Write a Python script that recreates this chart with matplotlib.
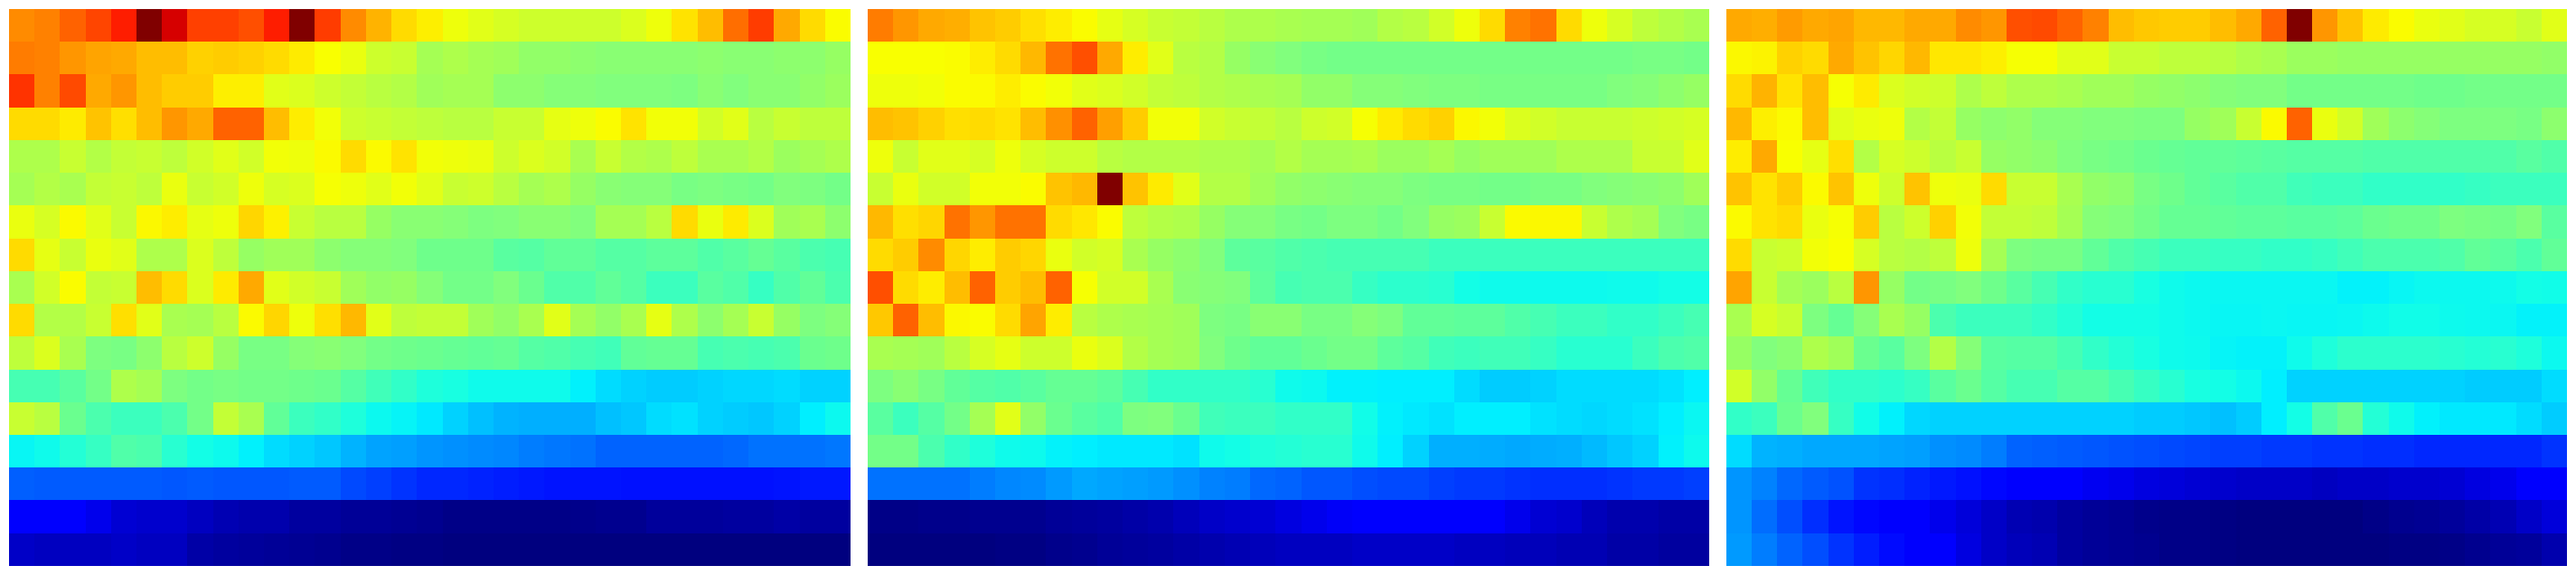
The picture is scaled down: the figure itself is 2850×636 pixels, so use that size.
import matplotlib
matplotlib.use('Agg')
import matplotlib.pyplot as plt
from matplotlib.colors import LinearSegmentedColormap

# Data: one row per line
panel_a = [
    [.80,.81,.84,.86,.89,1.0,.93,.865,.865,.85,.89,1.0,.87,.80,.76,.72,.69,.64,.625,.615,.605,.605,.605,.605,.62,.64,.71,.75,.83,.87,.77,.72,.66],
    [.815,.81,.79,.775,.77,.75,.75,.73,.735,.73,.72,.70,.655,.635,.605,.60,.565,.575,.565,.56,.545,.545,.54,.535,.535,.535,.535,.54,.535,.535,.54,.54,.55],
    [.875,.81,.855,.77,.79,.75,.735,.735,.69,.69,.625,.62,.605,.595,.585,.58,.56,.565,.565,.54,.54,.53,.53,.525,.525,.525,.52,.535,.525,.535,.535,.545,.555],
    [.72,.72,.70,.745,.715,.75,.79,.77,.84,.84,.75,.695,.645,.605,.60,.595,.59,.585,.585,.60,.60,.63,.64,.66,.71,.645,.645,.61,.625,.585,.60,.59,.59],
    [.575,.575,.60,.58,.595,.60,.59,.61,.625,.61,.645,.64,.665,.72,.665,.71,.645,.64,.635,.605,.62,.61,.57,.60,.58,.575,.59,.57,.57,.58,.555,.565,.575],
    [.565,.58,.57,.595,.60,.59,.635,.60,.61,.64,.615,.62,.65,.64,.625,.645,.625,.60,.605,.585,.565,.575,.55,.535,.53,.53,.515,.52,.515,.51,.525,.52,.51],
    [.635,.615,.665,.625,.60,.67,.695,.63,.64,.725,.685,.60,.585,.585,.55,.535,.535,.53,.52,.525,.535,.535,.525,.565,.565,.585,.72,.635,.70,.62,.56,.57,.54],
    [.72,.63,.60,.635,.625,.575,.575,.62,.59,.55,.56,.56,.54,.53,.53,.525,.505,.505,.505,.48,.475,.49,.49,.475,.475,.485,.485,.47,.48,.495,.48,.465,.46],
    [.57,.61,.66,.595,.60,.75,.72,.62,.70,.77,.625,.61,.60,.56,.545,.55,.53,.51,.51,.525,.50,.47,.47,.49,.475,.45,.45,.48,.47,.445,.47,.49,.465],
    [.72,.58,.58,.60,.715,.625,.57,.565,.585,.665,.725,.64,.715,.755,.625,.59,.595,.595,.56,.545,.57,.625,.565,.545,.57,.63,.575,.54,.565,.60,.55,.52,.53],
    [.59,.62,.57,.52,.515,.54,.585,.605,.55,.515,.515,.53,.535,.525,.51,.505,.50,.495,.49,.495,.475,.47,.46,.455,.49,.495,.495,.46,.465,.46,.465,.50,.505],
    [.46,.46,.48,.51,.575,.565,.52,.51,.515,.51,.51,.505,.50,.475,.455,.44,.42,.415,.40,.40,.40,.40,.365,.345,.335,.33,.33,.335,.34,.34,.345,.335,.335],
    [.60,.585,.50,.465,.45,.45,.465,.51,.595,.57,.49,.45,.44,.42,.39,.375,.355,.335,.32,.31,.305,.305,.305,.32,.325,.345,.35,.335,.33,.325,.335,.36,.39],
    [.38,.40,.425,.445,.47,.465,.43,.41,.395,.365,.345,.335,.325,.31,.29,.285,.275,.27,.265,.26,.25,.245,.24,.225,.225,.225,.225,.225,.23,.24,.24,.24,.245],
    [.22,.215,.215,.215,.215,.215,.21,.215,.21,.21,.21,.215,.215,.195,.185,.175,.165,.165,.16,.155,.15,.145,.145,.145,.14,.14,.14,.14,.14,.14,.145,.15,.15],
    [.115,.115,.115,.10,.08,.075,.075,.065,.055,.05,.05,.04,.04,.03,.03,.025,.02,.01,.01,.01,.01,.01,.015,.02,.02,.035,.035,.035,.04,.04,.045,.04,.04],
    [.07,.065,.065,.065,.07,.065,.065,.045,.04,.035,.03,.025,.02,.01,.01,.005,.005,0,0,0,0,0,0,0,0,0,0,0,0,0,0,0,0],
]

panel_b = [
    [.815,.79,.77,.765,.745,.735,.715,.695,.66,.63,.615,.60,.595,.585,.575,.575,.57,.565,.565,.56,.58,.585,.61,.64,.72,.81,.825,.72,.64,.615,.59,.58,.57],
    [.655,.655,.655,.66,.695,.72,.755,.825,.85,.77,.695,.625,.585,.58,.55,.535,.525,.515,.51,.51,.51,.51,.51,.51,.51,.51,.51,.51,.51,.51,.515,.515,.51],
    [.64,.64,.645,.66,.665,.695,.66,.645,.625,.62,.61,.595,.59,.58,.575,.57,.565,.545,.545,.53,.53,.525,.52,.52,.515,.515,.515,.515,.515,.525,.53,.54,.55],
    [.75,.745,.73,.715,.72,.71,.75,.795,.84,.78,.735,.645,.645,.61,.60,.595,.585,.605,.61,.65,.70,.72,.73,.67,.645,.62,.61,.60,.60,.60,.605,.61,.615],
    [.64,.60,.625,.625,.615,.64,.615,.605,.605,.585,.58,.58,.58,.575,.575,.565,.58,.565,.565,.57,.555,.555,.565,.55,.56,.56,.56,.575,.575,.575,.60,.60,.625],
    [.60,.635,.61,.61,.645,.645,.66,.745,.755,1.0,.745,.70,.625,.58,.58,.56,.545,.54,.535,.53,.53,.52,.515,.515,.51,.51,.515,.515,.525,.53,.535,.54,.56],
    [.755,.715,.725,.825,.79,.825,.825,.72,.705,.66,.59,.58,.575,.55,.53,.53,.515,.51,.52,.52,.51,.525,.55,.555,.60,.665,.67,.67,.60,.575,.565,.525,.515],
    [.72,.735,.80,.725,.695,.735,.725,.635,.61,.615,.57,.55,.54,.525,.485,.48,.47,.465,.46,.46,.46,.46,.45,.45,.45,.45,.45,.45,.45,.45,.45,.45,.45],
    [.85,.72,.695,.75,.84,.735,.75,.84,.65,.61,.61,.57,.535,.53,.525,.485,.46,.465,.465,.445,.435,.435,.43,.41,.40,.40,.395,.395,.395,.40,.40,.41,.41],
    [.74,.84,.75,.67,.66,.72,.775,.695,.585,.575,.57,.565,.56,.52,.515,.535,.535,.515,.515,.53,.52,.49,.49,.485,.485,.47,.46,.45,.45,.44,.44,.45,.46],
    [.57,.565,.56,.585,.615,.63,.605,.605,.635,.62,.58,.565,.56,.525,.505,.49,.49,.50,.51,.51,.485,.475,.455,.45,.455,.455,.445,.43,.43,.43,.45,.465,.47],
    [.52,.535,.515,.49,.475,.47,.48,.495,.495,.485,.46,.44,.44,.44,.44,.43,.40,.39,.365,.365,.36,.36,.36,.345,.33,.33,.335,.345,.345,.345,.345,.35,.36],
    [.48,.45,.475,.51,.565,.625,.545,.50,.48,.47,.52,.525,.50,.455,.45,.45,.44,.44,.44,.405,.365,.355,.35,.36,.36,.36,.35,.345,.34,.345,.35,.36,.385],
    [.51,.51,.465,.44,.42,.40,.395,.37,.36,.355,.355,.355,.35,.40,.41,.42,.425,.43,.43,.40,.36,.335,.305,.305,.30,.295,.30,.305,.315,.325,.335,.365,.395],
    [.24,.24,.24,.24,.25,.26,.265,.28,.295,.29,.285,.28,.27,.255,.25,.23,.225,.21,.21,.20,.195,.195,.185,.18,.18,.175,.17,.17,.17,.175,.18,.18,.185],
    [.01,.01,.015,.015,.02,.02,.02,.03,.035,.04,.045,.05,.06,.07,.075,.08,.09,.10,.11,.115,.115,.115,.115,.115,.115,.10,.08,.075,.06,.05,.05,.045,.045],
    [0,0,0,0,0,.005,.005,.015,.02,.03,.035,.04,.045,.05,.055,.06,.065,.065,.065,.07,.07,.07,.07,.065,.065,.06,.06,.055,.055,.045,.045,.04,.04],
]

panel_c = [
    [.77,.765,.785,.77,.775,.755,.755,.77,.77,.80,.79,.85,.855,.84,.81,.75,.74,.735,.735,.75,.77,.84,1.0,.79,.745,.70,.66,.635,.625,.615,.615,.60,.625],
    [.67,.68,.73,.72,.77,.745,.725,.755,.705,.705,.69,.65,.65,.625,.625,.60,.60,.59,.59,.585,.575,.57,.555,.555,.55,.55,.55,.55,.55,.55,.55,.55,.545],
    [.72,.76,.71,.75,.65,.70,.62,.61,.605,.575,.59,.575,.575,.57,.56,.56,.55,.545,.54,.53,.525,.525,.51,.51,.51,.51,.51,.505,.505,.51,.51,.51,.51],
    [.755,.69,.665,.75,.625,.635,.64,.58,.595,.55,.54,.545,.53,.53,.525,.525,.52,.52,.55,.56,.60,.665,.84,.635,.61,.56,.54,.53,.52,.52,.52,.515,.54],
    [.695,.77,.655,.63,.715,.58,.615,.605,.585,.60,.55,.545,.54,.525,.515,.51,.50,.495,.49,.49,.485,.48,.475,.475,.475,.47,.47,.47,.47,.47,.47,.48,.47],
    [.745,.71,.735,.665,.745,.64,.605,.745,.64,.635,.72,.60,.60,.57,.545,.54,.515,.505,.49,.48,.47,.47,.455,.45,.45,.44,.44,.44,.44,.445,.45,.45,.45],
    [.665,.71,.72,.635,.65,.735,.585,.605,.73,.645,.595,.595,.59,.565,.53,.525,.51,.495,.495,.49,.485,.485,.48,.48,.485,.50,.505,.505,.52,.515,.51,.525,.48],
    [.72,.60,.605,.645,.655,.615,.585,.58,.59,.64,.565,.52,.515,.515,.49,.47,.46,.45,.45,.445,.445,.44,.44,.445,.455,.465,.465,.465,.47,.49,.48,.465,.49],
    [.775,.60,.565,.555,.585,.79,.55,.51,.515,.525,.505,.48,.46,.44,.43,.43,.415,.40,.39,.385,.385,.385,.385,.385,.37,.37,.38,.39,.39,.39,.395,.41,.405],
    [.57,.615,.60,.52,.495,.53,.57,.55,.465,.45,.45,.45,.44,.425,.41,.41,.41,.40,.39,.38,.38,.385,.38,.38,.385,.395,.405,.405,.395,.39,.385,.37,.37],
    [.55,.525,.535,.575,.56,.50,.48,.52,.58,.53,.48,.475,.475,.46,.44,.425,.415,.40,.395,.375,.37,.37,.40,.42,.435,.435,.435,.435,.43,.425,.43,.42,.39],
    [.61,.545,.495,.455,.44,.44,.435,.445,.48,.50,.475,.46,.46,.475,.475,.46,.445,.43,.415,.41,.39,.36,.335,.335,.335,.335,.335,.335,.335,.33,.33,.33,.345],
    [.44,.45,.50,.525,.445,.405,.365,.34,.335,.335,.335,.335,.335,.335,.335,.335,.33,.33,.325,.32,.33,.36,.41,.47,.50,.425,.40,.365,.355,.355,.355,.345,.33],
    [.345,.31,.305,.295,.295,.295,.29,.285,.27,.265,.25,.225,.22,.215,.21,.205,.20,.195,.19,.185,.185,.18,.18,.175,.175,.17,.17,.165,.165,.165,.165,.165,.175],
    [.275,.255,.23,.215,.205,.175,.17,.16,.15,.14,.125,.115,.115,.115,.105,.10,.09,.085,.08,.075,.07,.07,.07,.065,.07,.07,.075,.075,.08,.09,.10,.115,.115],
    [.275,.235,.20,.17,.145,.125,.115,.115,.10,.085,.07,.055,.05,.04,.03,.025,.015,.01,.01,.005,0,0,0,0,0,.01,.02,.025,.035,.045,.055,.07,.085],
    [.28,.25,.225,.20,.175,.155,.13,.115,.115,.09,.07,.06,.055,.04,.03,.025,.02,.01,.01,.005,0,0,0,0,0,0,.005,.005,.01,.02,.03,.035,.05],
]

# jet-like colour scale, stops match how the values above were read
stops = [
    (0, (0, 0, 127)), (.04, (0, 0, 160)), (.07, (0, 0, 200)), (.115, (0, 0, 255)),
    (.145, (0, 20, 255)), (.165, (0, 40, 255)), (.19, (0, 70, 255)), (.225, (0, 100, 255)),
    (.255, (0, 130, 255)), (.285, (0, 160, 255)), (.31, (0, 180, 255)), (.325, (0, 200, 255)),
    (.345, (0, 220, 255)), (.36, (0, 240, 255)), (.41, (20, 255, 230)), (.43, (40, 255, 210)),
    (.46, (70, 255, 180)), (.48, (90, 255, 160)), (.505, (110, 255, 140)), (.525, (130, 255, 125)),
    (.55, (150, 255, 100)), (.57, (170, 255, 80)), (.59, (190, 255, 60)), (.61, (210, 255, 40)),
    (.63, (230, 255, 20)), (.655, (250, 255, 0)), (.70, (255, 235, 0)), (.72, (255, 220, 0)),
    (.735, (255, 205, 0)), (.75, (255, 190, 0)), (.77, (255, 170, 0)), (.79, (255, 150, 0)),
    (.81, (255, 130, 0)), (.84, (255, 100, 0)), (.85, (255, 80, 0)), (.87, (255, 60, 0)),
    (.89, (255, 30, 0)), (.93, (215, 0, 0)), (1, (128, 0, 0)),
]
cmap = LinearSegmentedColormap.from_list(
    'read_jet', [(p, tuple(c / 255 for c in rgb)) for p, rgb in stops], N=1024)

W, H = 2850, 636
fig = plt.figure(figsize=(W / 100, H / 100), dpi=100, facecolor='white')

# Three panels, no axes or labels in the original
for left, panel in zip([10, 960, 1910], [panel_a, panel_b, panel_c]):
    ax = fig.add_axes([left / W, 10 / H, 930 / W, 616 / H])
    ax.imshow(panel, cmap=cmap, vmin=0, vmax=1, aspect='auto', interpolation='nearest')
    ax.axis('off')

fig.savefig('out.png', dpi=100, facecolor='white')
